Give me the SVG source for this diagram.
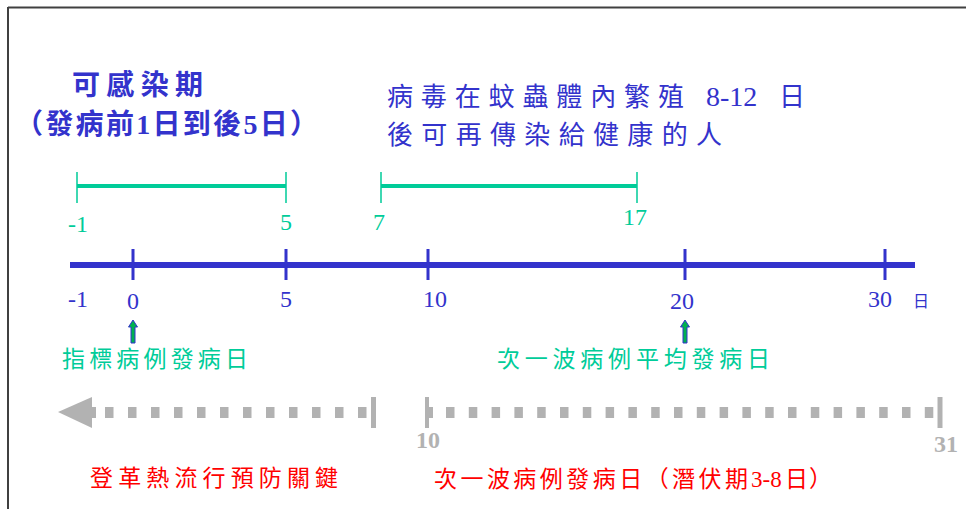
<svg xmlns="http://www.w3.org/2000/svg" width="966" height="509" viewBox="0 0 966 509">
<style>
.cjk{font-family:"Liberation Serif","Noto Sans CJK TC",serif}
.blue{fill:#3333CC}
.green{fill:#00CC99}
.red{fill:#FF0000}
.gray{fill:#B2B2B2;font-weight:bold}
.num{font-family:"Liberation Serif",serif;font-size:24px}
.axis{stroke:#3333CC;fill:none}
.bar{stroke:#00CC99;fill:none}
.gline{stroke:#B2B2B2;fill:none}
.up{fill:#00B050;stroke:#3333CC;stroke-width:1}
</style>
<rect x="0" y="0" width="966" height="509" fill="#FFFFFF"/>
<g id="frame">
<path d="M8 7.5 H966 M8 7 V509" stroke="#404040" stroke-width="2" fill="none"/>
</g>
<g id="connectors">
<line class="axis" x1="70" y1="265" x2="915" y2="265" stroke-width="6"/>
<path class="axis" stroke-width="3" d="M133 249 V280 M286 249 V280 M428 249 V280 M685 249 V280 M885 249 V280"/>
<line class="bar" x1="77" y1="186" x2="286" y2="186" stroke-width="4"/>
<path class="bar" stroke-width="1.5" d="M77 172 V203 M286 172 V203"/>
<line class="bar" x1="381" y1="186" x2="637" y2="186" stroke-width="4"/>
<path class="bar" stroke-width="1.5" d="M381 172 V203 M637 172 V203"/>
<path class="up" d="M133 320 L137.5 327 L135 327 L135 343 L131 343 L131 327 L128.5 327 Z"/>
<path class="up" d="M685 320 L689.5 327 L687 327 L687 343 L683 343 L683 327 L680.5 327 Z"/>
<polygon points="58,412 92,397 92,428" fill="#B2B2B2"/>
<rect x="91" y="407" width="5" height="11" fill="#B2B2B2"/>
<line class="gline" x1="105" y1="412.5" x2="367" y2="412.5" stroke-width="11" stroke-dasharray="8.5 14.5"/>
<line class="gline" x1="373.5" y1="397" x2="373.5" y2="428" stroke-width="5"/>
<line class="gline" x1="427" y1="397" x2="427" y2="428" stroke-width="4"/>
<rect x="427" y="407" width="6" height="11" fill="#B2B2B2"/>
<line class="gline" x1="446" y1="412.5" x2="935" y2="412.5" stroke-width="11" stroke-dasharray="8.5 14.3"/>
<line class="gline" x1="940" y1="397" x2="940" y2="428" stroke-width="5"/>
</g>
<g id="title">
<text class="cjk blue" x="72" y="95" font-size="28" font-weight="bold" textLength="131" lengthAdjust="spacing">可感染期</text>
<text class="cjk blue" x="15" y="134" font-size="28" font-weight="bold" textLength="303" lengthAdjust="spacing">（發病前1日到後5日）</text>
</g>
<g id="virus-note">
<text class="cjk blue" x="387" y="106" font-size="26" textLength="297" lengthAdjust="spacing">病毒在蚊蟲體內繁殖</text>
<text class="cjk blue" x="706" y="106" font-size="28">8-12</text>
<text class="cjk blue" x="779" y="106" font-size="26">日</text>
<text class="cjk blue" x="387" y="144" font-size="26" textLength="335" lengthAdjust="spacing">後可再傳染給健康的人</text>
</g>
<g id="range-labels">
<text class="num green" x="68" y="232">-1</text>
<text class="num green" x="286" y="230" text-anchor="middle">5</text>
<text class="num green" x="379" y="230" text-anchor="middle">7</text>
<text class="num green" x="635" y="225" text-anchor="middle">17</text>
</g>
<g id="axis-labels">
<text class="num blue" x="68" y="307">-1</text>
<text class="num blue" x="133" y="309" text-anchor="middle">0</text>
<text class="num blue" x="286" y="307" text-anchor="middle">5</text>
<text class="num blue" x="435" y="307" text-anchor="middle">10</text>
<text class="num blue" x="682" y="309" text-anchor="middle">20</text>
<text class="num blue" x="880" y="307" text-anchor="middle">30</text>
<text class="cjk blue" x="913" y="307" font-size="16">日</text>
</g>
<g id="index-case">
<text class="cjk green" x="62" y="367" font-size="23" textLength="186" lengthAdjust="spacing">指標病例發病日</text>
</g>
<g id="next-wave">
<text class="cjk green" x="497" y="367" font-size="23" textLength="273" lengthAdjust="spacing">次一波病例平均發病日</text>
</g>
<g id="prevention">
<text class="cjk red" x="90" y="486" font-size="23" textLength="248" lengthAdjust="spacing">登革熱流行預防關鍵</text>
</g>
<g id="incubation">
<text class="num gray" x="428" y="448" text-anchor="middle" font-size="25">10</text>
<text class="num gray" x="946" y="452" text-anchor="middle" font-size="26">31</text>
<text class="cjk red" x="434" y="487" font-size="23" textLength="314" lengthAdjust="spacing">次一波病例發病日（潛伏期</text>
<text class="cjk red" x="751" y="487" font-size="23">3-8</text>
<text class="cjk red" x="785" y="487" font-size="23" textLength="47" lengthAdjust="spacing">日）</text>
</g>
</svg>
